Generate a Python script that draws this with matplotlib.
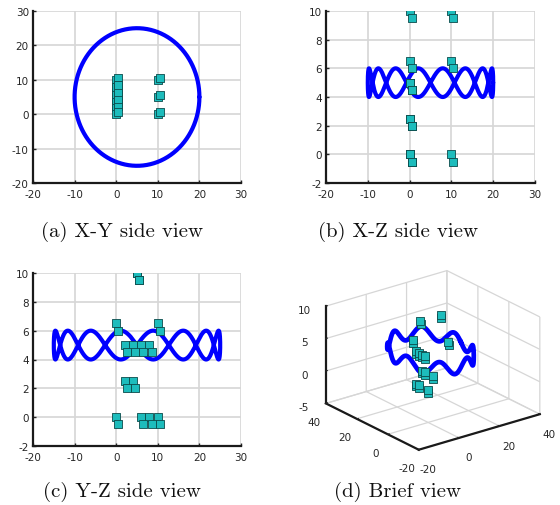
import numpy as np
import matplotlib
matplotlib.use("Agg")
import matplotlib.pyplot as plt

plt.rcParams["axes.unicode_minus"] = False

# ---- trajectory parameters (elliptical orbit with vertical oscillation) ----
center_x, center_y = 5.0, 5.0
radius_x, radius_y = 15.0, 20.0
z_mid, z_amp = 5.0, 1.0
n_waves = 8
n_samples = 1500

# ---- landmark points (true) ----
true_x = [0, 10, 0, 10, 0, 0, 0, 0, 0, 0, 0, 0, 0, 10]
true_y = [5, 5, 10, 0, 2, 4, 6, 8, 2, 4, 0, 6, 8, 10]
true_z = [10, 10, 6.5, 6.5, 5, 5, 5, 5, 2.5, 2.5, 0, 0, 0, 0]
# ---- landmark points (estimated) ----
est_x = [0.5, 10.5, 0.5, 10.5, 0.5, 0.5, 0.5, 0.5, 0.5, 0.5, 0.5, 0.5, 0.5, 10.5]
est_y = [5.5, 5.5, 10.5, 0.5, 2.5, 4.5, 6.5, 8.5, 2.5, 4.5, 0.5, 6.5, 8.5, 10.5]
est_z = [9.5, 9.5, 6, 6, 4.5, 4.5, 4.5, 4.5, 2, 2, -0.5, -0.5, -0.5, -0.5]

captions = ["(a) X-Y side view", "(b) X-Z side view", "(c) Y-Z side view", "(d) Brief view"]

theta = np.linspace(0, 2 * np.pi, n_samples)
traj_x = center_x + radius_x * np.cos(theta)
traj_y = center_y + radius_y * np.sin(theta)
traj_z = z_mid + z_amp * np.sin(n_waves * theta)

W, H = 560, 506
fig = plt.figure(figsize=(W / 100, H / 100), dpi=100)

line_col = (0, 0, 1)
mk_face = "#1dbcbc"
mk_edge = "#0b4a4a"
tick_col = "#262626"

def px_axes(l, r, t, b, **kw):
    return fig.add_axes([l / W, 1 - b / H, (r - l) / W, (b - t) / H], **kw)

def style2d(ax, xlim, ylim, xt, yt):
    ax.set_xlim(*xlim)
    ax.set_ylim(*ylim)
    ax.set_xticks(xt)
    ax.set_yticks(yt)
    ax.grid(True, color="#d6d6d6", linewidth=1.2)
    ax.set_axisbelow(True)
    for s in ["top", "right"]:
        ax.spines[s].set_visible(False)
    for s in ["left", "bottom"]:
        ax.spines[s].set_linewidth(1.6)
        ax.spines[s].set_color("#1a1a1a")
    ax.tick_params(direction="in", length=2, width=1, labelsize=7.5,
                   colors=tick_col)
    ax.tick_params(axis="y", pad=3)
    ax.tick_params(axis="x", pad=4)

def draw2d(ax, a, b, ta, tb, ea, eb):
    ax.plot(a, b, color=line_col, linewidth=3.0, solid_capstyle="round")
    ax.scatter(ta, tb, marker="s", s=28, facecolor=mk_face, edgecolor=mk_edge,
               linewidth=0.6, zorder=5)
    ax.scatter(ea, eb, marker="s", s=28, facecolor=mk_face, edgecolor=mk_edge,
               linewidth=0.6, zorder=5)

# (a) X-Y
ax1 = px_axes(33, 241, 12, 184)
draw2d(ax1, traj_x, traj_y, true_x, true_y, est_x, est_y)
style2d(ax1, (-20, 30), (-20, 30), [-20, -10, 0, 10, 20, 30], [-20, -10, 0, 10, 20, 30])

# (b) X-Z
ax2 = px_axes(326, 535, 12, 184)
draw2d(ax2, traj_x, traj_z, true_x, true_z, est_x, est_z)
style2d(ax2, (-20, 30), (-2, 10), [-20, -10, 0, 10, 20, 30], [-2, 0, 2, 4, 6, 8, 10])

# (c) Y-Z
ax3 = px_axes(33, 241, 274, 447)
draw2d(ax3, traj_y, traj_z, true_y, true_z, est_y, est_z)
style2d(ax3, (-20, 30), (-2, 10), [-20, -10, 0, 10, 20, 30], [-2, 0, 2, 4, 6, 8, 10])

# (d) 3D
ax4 = px_axes(300, 560, 259, 469, projection="3d", proj_type="ortho")
ax4.plot(traj_x, traj_y, traj_z, color=line_col, linewidth=3.4)
ax4.scatter(true_x, true_y, true_z, marker="s", s=28, facecolor=mk_face,
            edgecolor=mk_edge, linewidth=0.6, depthshade=False)
ax4.scatter(est_x, est_y, est_z, marker="s", s=28, facecolor=mk_face,
            edgecolor=mk_edge, linewidth=0.6, depthshade=False)
ax4.set_xlim(-20, 40)
ax4.set_ylim(-20, 40)
ax4.set_zlim(-5, 10)
ax4.set_xticks([-20, 0, 20, 40])
ax4.set_yticks([-20, 0, 20, 40])
ax4.set_zticks([-5, 0, 5, 10])
ax4.view_init(elev=22.5, azim=-127.5)
ax4.set_box_aspect((1, 1, 0.69), zoom=1.11)
for axis in (ax4.xaxis, ax4.yaxis, ax4.zaxis):
    axis.set_pane_color((1, 1, 1, 0))
    axis.pane.set_edgecolor("#d0d0d0")
    axis.line.set_color("#1a1a1a")
    axis.line.set_linewidth(1.6)
    axis._axinfo["grid"]["color"] = "#d6d6d6"
    axis._axinfo["grid"]["linewidth"] = 0.9
    axis._axinfo["tick"]["inward_factor"] = 0.0
    axis._axinfo["tick"]["outward_factor"] = 0.15
ax4.tick_params(labelsize=7.5, colors=tick_col, pad=0)

# captions
cap_font = dict(family="cmr10", fontsize=15, color="#111111", ha="center", va="center")
fig.text(122 / W, 1 - 232 / H, captions[0], **cap_font)
fig.text(398 / W, 1 - 232 / H, captions[1], **cap_font)
fig.text(122 / W, 1 - 492 / H, captions[2], **cap_font)
fig.text(397 / W, 1 - 492 / H, captions[3], **cap_font)

fig.savefig("out.png", dpi=100, facecolor="white")
